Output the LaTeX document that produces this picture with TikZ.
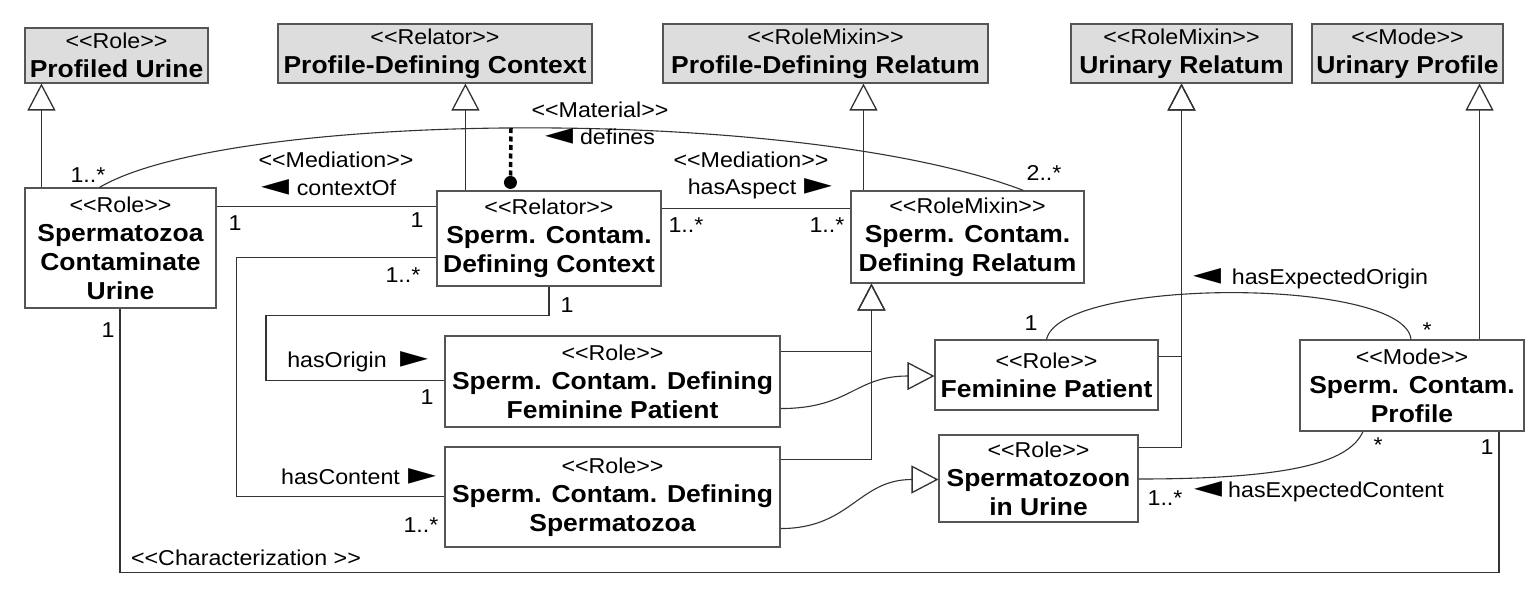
\documentclass[tikz,border=0pt]{standalone}
\usepackage{fontspec}
\setmainfont{Liberation Sans}[FakeStretch=1.08]
\newfontfamily\symfont{DejaVu Sans}
\usetikzlibrary{arrows.meta,calc}
\newcommand\st[1]{{\fontsize{21.5}{29}\selectfont\mdseries <\kern0pt<#1>\kern0pt>}}
\newcommand\nm[1]{{\fontsize{24.5}{29}\selectfont\bfseries #1}}
\newcommand\lf{\resizebox*{28pt}{16pt}{\symfont ◄}}
\newcommand\rt{\resizebox*{28pt}{16pt}{\symfont ►}}
\definecolor{boxgray}{HTML}{DDDDDD}
\definecolor{linegray}{HTML}{333333}
\definecolor{bordergray}{HTML}{555555}
\begin{document}
\begin{tikzpicture}[x=1pt,y=-1pt,
  cls/.style={draw=bordergray, line width=1.1pt, fill=white, inner sep=0pt, align=center,
    font=\fontsize{24.5}{29}\selectfont},
  topcls/.style={cls, fill=boxgray},
  con/.style={draw=linegray, line width=1.1pt},
  gen/.style={con, -{Triangle[open, length=27pt, width=28pt, line width=1.3pt]}},
  lbl/.style={inner sep=0pt, font=\fontsize{21.5}{26}\selectfont},
]
\useasboundingbox[fill=white] (0,0) rectangle (1538,596);

% top classes
\node[topcls, minimum width=183pt, minimum height=55pt] (pu)  at (116.5,55.5) {\st{Role}\\\nm{Profiled Urine}};
\node[topcls, minimum width=314pt, minimum height=59pt] (pdc) at (435,53.5)   {\st{Relator}\\\nm{Profile-Defining Context}};
\node[topcls, minimum width=325pt, minimum height=59pt] (pdr) at (825.5,53.5) {\st{RoleMixin}\\\nm{Profile-Defining Relatum}};
\node[topcls, minimum width=221pt, minimum height=59pt] (ur)  at (1181.5,53.5){\st{RoleMixin}\\\nm{Urinary Relatum}};
\node[topcls, minimum width=191pt, minimum height=59pt] (up)  at (1407.5,53.5){\st{Mode}\\\nm{Urinary Profile}};

% middle classes
\node[cls, minimum width=191pt, minimum height=120pt] (scu) at (120.5,248) {\st{Role}\\\nm{Spermatozoa}\\\nm{Contaminate}\\\nm{Urine}};
\node[cls, minimum width=224pt, minimum height=95pt] (rel) at (549,238.5) {\st{Relator}\\\nm{Sperm. Contam.}\\\nm{Defining Context}};
\node[cls, minimum width=233pt, minimum height=92pt] (rmx) at (967.5,237) {\st{RoleMixin}\\\nm{Sperm. Contam.}\\\nm{Defining Relatum}};
\node[cls, minimum width=335pt, minimum height=91pt] (sfp) at (612.5,381.5) {\st{Role}\\\nm{Sperm. Contam. Defining}\\\nm{Feminine Patient}};
\node[cls, minimum width=335pt, minimum height=100pt] (ssp) at (612.5,497) {\st{Role}\\\nm{Sperm. Contam. Defining}\\\nm{Spermatozoa}};
\node[cls, minimum width=223pt, minimum height=70pt] (fp) at (1046.5,375) {\st{Role}\\\nm{Feminine Patient}};
\node[cls, minimum width=199pt, minimum height=87pt] (siu) at (1038.5,478.5) {\st{Role}\\\nm{Spermatozoon}\\\nm{in Urine}};
\node[cls, minimum width=224pt, minimum height=91pt] (mode) at (1412,385.5) {\st{Mode}\\\nm{Sperm. Contam.}\\\nm{Profile}};

% generalizations
\draw[gen] ([xshift=17pt]scu.north west) -- ([xshift=17pt]scu.north west |- pu.south);
\draw[gen] ([xshift=29pt]rel.north west) -- ([xshift=29pt]rel.north west |- pdc.south);
\draw[gen] ([xshift=13pt]rmx.north west) -- ([xshift=13pt]rmx.north west |- pdr.south);
\draw[gen] ([yshift=-16pt]sfp.north east) -| ([xshift=21pt]rmx.south west);
\draw[gen] ([yshift=-13pt]ssp.north east) -| ([xshift=21pt]rmx.south west);
\draw[gen] ([yshift=-17pt]fp.north east) -| (ur.south);
\draw[gen] ([yshift=-13pt]siu.north east) -| (ur.south);
\draw[gen] ([xshift=67.5pt]mode.north) -- ([xshift=67.5pt]mode.north |- up.south);
\draw[gen] ([yshift=19pt]sfp.south east) .. controls +(70,0) and +(-80,0) .. ([yshift=-1pt]fp.west);
\draw[gen] ([yshift=19pt]ssp.south east) .. controls +(70,0) and +(-80,0) .. ([yshift=-1pt]siu.west);

% associations
\draw[con] ([yshift=-19pt]scu.north east) -- ([yshift=-19pt]scu.north east -| rel.west);
\draw[con] ([yshift=-18pt]rel.north east) -- ([yshift=-18pt]rel.north east -| rmx.west);
\draw[con] ([xshift=75pt]scu.north west) .. controls (230,110) and (800,105) .. ([xshift=173pt]rmx.north west);
\coordinate (matpt) at (511,128);
\draw[draw=black, line width=3.5pt, dash pattern=on 5pt off 3.5pt] (matpt) -- ([xshift=74pt,yshift=8pt]rel.north west);
\fill ([xshift=74pt,yshift=8pt]rel.north west) circle (6.5pt);
\draw[con] (rel.south) -- ++(0,29) -- ++(-283,0) |- ([yshift=-45pt]sfp.north west);
\draw[con] ([yshift=-67pt]rel.north west) -- ++(-200,0) |- ([yshift=-50pt]ssp.north west);
\draw[con] ([xshift=-0.5pt]scu.south) -- ++(0,264) -| ([xshift=87pt]mode.south);
\draw[con] (fp.north) .. controls (1060,277) and (1405,277) .. ([xshift=-1pt]mode.north);
\draw[con] ([yshift=-0.5pt]siu.east) .. controls (1300,479) and (1350,460) .. ([xshift=-49pt]mode.south);

% labels
\node[lbl] (l1) at (88,175) {1..*};
\node[lbl] (l2) at (336,160) {\st{Mediation}};
\node[lbl] (l3) at (329,188) {\lf\hspace{7pt}contextOf};
\node[lbl] (l4) at (235,223) {1};
\node[lbl] (l5) at (417,220) {1};
\node[lbl] (l6) at (403,275) {1..*};
\node[lbl] (l7) at (600,110) {\st{Material}};
\node[lbl] (l8) at (600,137) {\lf\hspace{7pt}defines};
\node[lbl] (l9) at (751,160) {\st{Mediation}};
\node[lbl] (l10) at (760,189) {hasAspect\hspace{8pt}\rt};
\node[lbl] (l11) at (686,225) {1..*};
\node[lbl] (l12) at (827,225) {1..*};
\node[lbl] (l13) at (1044,173) {2..*};
\node[lbl] (l14) at (567,305) {1};
\node[lbl] (l15) at (358,362) {hasOrigin\hspace{14pt}\rt};
\node[lbl] (l16) at (427,397) {1};
\node[lbl] (l17) at (359,477) {hasContent\hspace{9pt}\rt};
\node[lbl] (l18) at (421,525) {1..*};
\node[lbl] (l19) at (246,558) {\st{Characterization }};
\node[lbl] (l20) at (108,330) {1};
\node[lbl] (l21) at (1311,279) {\lf\hspace{10pt}hasExpectedOrigin};
\node[lbl] (l22) at (1031,323) {1};
\node[lbl] (l23) at (1427,330) {*};
\node[lbl] (l24) at (1378,445) {*};
\node[lbl] (l25) at (1487,447) {1};
\node[lbl] (l26) at (1165,498) {1..*};
\node[lbl] (l27) at (1319,492) {\lf\hspace{6pt}hasExpectedContent};
\end{tikzpicture}
\end{document}
